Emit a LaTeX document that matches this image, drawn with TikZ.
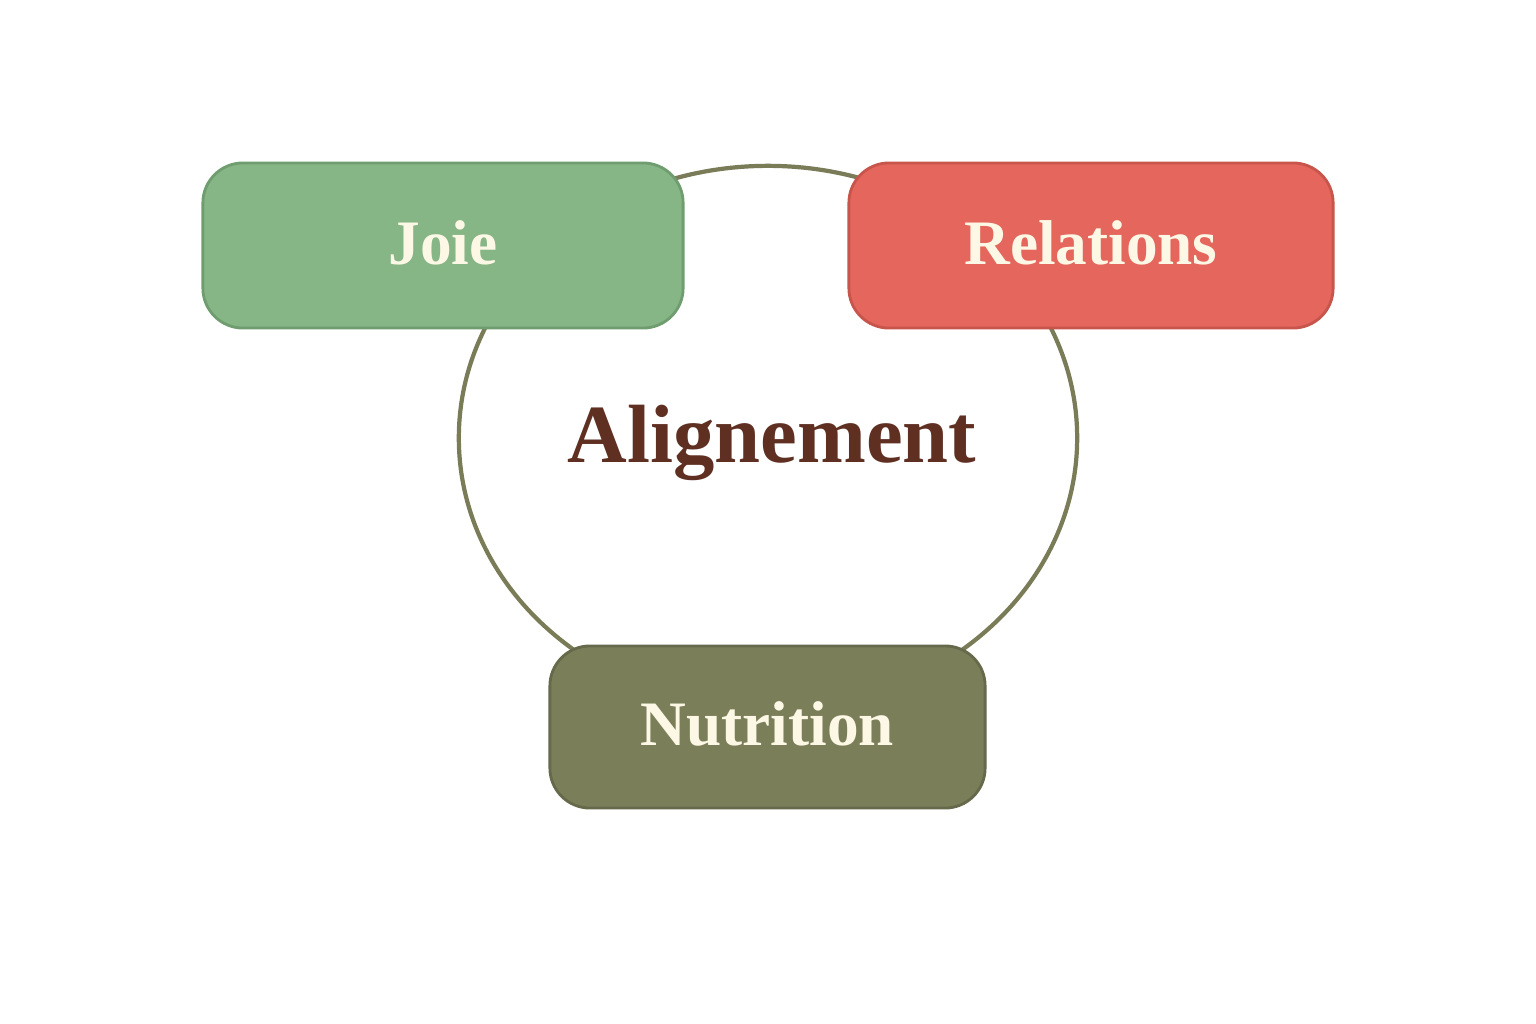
\documentclass[tikz,border=0pt]{standalone}
\usepackage{fontspec}
\setmainfont{Liberation Serif}
\definecolor{joiegreen}{HTML}{86B586}
\definecolor{joieedge}{HTML}{6F9D70}
\definecolor{relred}{HTML}{E4665C}
\definecolor{reledge}{HTML}{C8554C}
\definecolor{nutolive}{HTML}{7B7F59}
\definecolor{nutedge}{HTML}{66694A}
\definecolor{ringcol}{HTML}{7A7C58}
\definecolor{cream}{HTML}{FDF8E6}
\definecolor{brown}{HTML}{5F2F22}
\tikzset{
  pill/.style={rounded corners=0.4cm, draw, line width=0.8pt, inner sep=0pt,
    text=cream, font=\bfseries\fontsize{18}{21}\selectfont,
    text height=10.8pt, text depth=0pt},
  ring/.style={draw=ringcol, line width=1.2pt},
  title/.style={text=brown, font=\bfseries\fontsize{23.5}{27}\selectfont, inner sep=0pt, anchor=base}
}
\begin{document}
\begin{tikzpicture}[x=0.01cm,y=-0.01cm]
\useasboundingbox[fill=white] (0,0) rectangle (1536,1024);
\coordinate (ringc) at (768,438);
\draw[ring] (ringc) ellipse [x radius=3.09cm, y radius=2.72cm];
\node[title] (align) at (772,462) {Alignement};
\node[pill, fill=joiegreen, draw=joieedge, minimum width=4.8cm, minimum height=1.65cm] (joie) at (443,245.5) {Joie};
\node[pill, fill=relred, draw=reledge, minimum width=4.84cm, minimum height=1.65cm] (rel) at (1091,245.5) {Relations};
\node[pill, fill=nutolive, draw=nutedge, minimum width=4.35cm, minimum height=1.62cm] (nut) at (767.5,727) {Nutrition};
\end{tikzpicture}
\end{document}
